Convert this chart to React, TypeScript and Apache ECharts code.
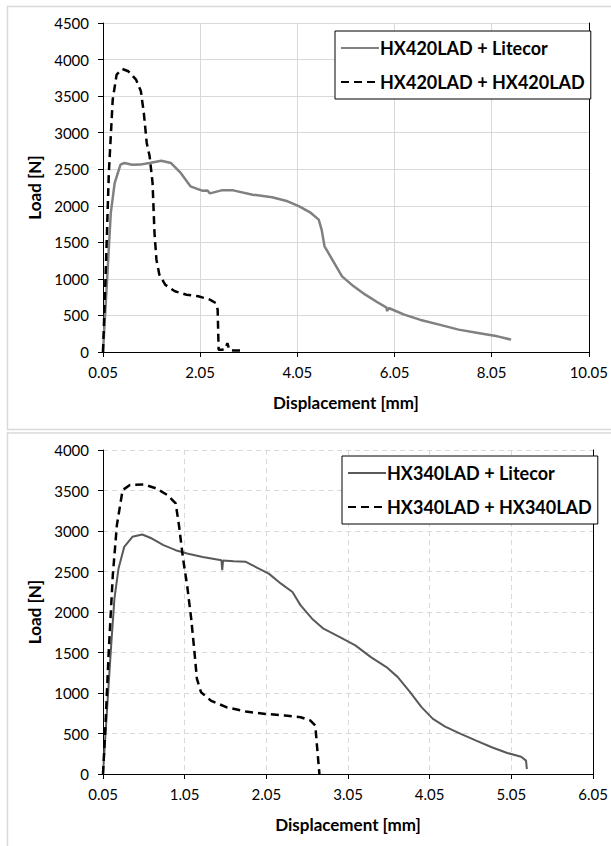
import React, { useEffect, useRef } from "react";
import * as echarts from "echarts";

// ---------- Data (displacement in mm, load in N) ----------
const X_TICK_START = 0.05; // first tick label of both x axes

// Top chart
const TOP_LITECOR_NAME = "HX420LAD + Litecor";
const TOP_LITECOR_X = [0.05, 0.13, 0.21, 0.29, 0.41, 0.49, 0.65, 0.81, 1.01, 1.25, 1.45, 1.65, 1.85, 2.09, 2.2, 2.25, 2.49, 2.73, 3.13, 3.53, 3.85, 4.09, 4.33, 4.49, 4.55, 4.61, 4.73, 4.97, 5.21, 5.45, 5.69, 5.88, 5.9, 5.93, 6.25, 6.57, 6.97, 7.37, 7.77, 8.17, 8.45];
const TOP_LITECOR_Y = [0, 943, 1900, 2310, 2563, 2585, 2560, 2563, 2585, 2617, 2585, 2449, 2266, 2207, 2210, 2170, 2211, 2211, 2152, 2116, 2061, 1993, 1902, 1810, 1674, 1446, 1309, 1035, 898, 784, 684, 610, 560, 602, 511, 442, 374, 306, 260, 214, 169];

const TOP_STEEL_NAME = "HX420LAD + HX420LAD";
const TOP_STEEL_X = [0.05, 0.11, 0.17, 0.25, 0.33, 0.45, 0.57, 0.73, 0.83, 0.89, 0.95, 1.01, 1.07, 1.11, 1.15, 1.21, 1.33, 1.53, 1.77, 2.01, 2.25, 2.37, 2.41, 2.43, 2.49, 2.57, 2.61, 2.65, 2.73, 2.89];
const TOP_STEEL_Y = [0, 1172, 2449, 3452, 3794, 3871, 3840, 3726, 3566, 3270, 2859, 2677, 2312, 1628, 1263, 1058, 921, 830, 784, 762, 716, 670, 579, 32, 30, 40, 123, 30, 20, 20];

// Bottom chart
const BOT_LITECOR_NAME = "HX340LAD + Litecor";
const BOT_LITECOR_X = [0.05, 0.1, 0.15, 0.19, 0.24, 0.31, 0.41, 0.53, 0.65, 0.79, 0.94, 1.08, 1.27, 1.5, 1.51, 1.52, 1.65, 1.8, 1.94, 2.08, 2.23, 2.37, 2.47, 2.61, 2.75, 2.95, 3.14, 3.33, 3.52, 3.66, 3.81, 3.95, 4.09, 4.24, 4.43, 4.62, 4.81, 5.0, 5.17, 5.23, 5.24];
const BOT_LITECOR_Y = [0, 804, 1588, 2165, 2536, 2804, 2928, 2957, 2907, 2825, 2763, 2722, 2680, 2640, 2515, 2635, 2627, 2619, 2544, 2474, 2350, 2247, 2082, 1918, 1794, 1691, 1588, 1443, 1320, 1196, 1010, 825, 680, 586, 495, 412, 330, 260, 214, 165, 62];

const BOT_STEEL_NAME = "HX340LAD + HX340LAD";
const BOT_STEEL_X = [0.05, 0.08, 0.12, 0.17, 0.22, 0.29, 0.38, 0.55, 0.7, 0.84, 0.94, 0.98, 1.03, 1.08, 1.13, 1.17, 1.2, 1.25, 1.37, 1.56, 1.8, 2.04, 2.28, 2.47, 2.59, 2.65, 2.67, 2.7];
const BOT_STEEL_Y = [0, 598, 1505, 2454, 3072, 3505, 3567, 3575, 3526, 3443, 3340, 3072, 2660, 2330, 1918, 1505, 1175, 1010, 907, 825, 771, 742, 722, 701, 660, 598, 351, 0];

// Axis settings
const TOP_X_MAX = 10; // 0.05 .. 10.05
const TOP_X_INTERVAL = 2;
const TOP_Y_MAX = 4500;
const BOT_X_MAX = 6; // 0.05 .. 6.05
const BOT_X_INTERVAL = 1;
const BOT_Y_MAX = 4000;
const Y_INTERVAL = 500;

const FONT = "Lato, 'Open Sans', sans-serif";

const toPairs = (xs: number[], ys: number[]) =>
  xs.map((x, i) => [x - X_TICK_START, ys[i]]);

const fmtX = (v: number) => (v + X_TICK_START).toFixed(2);
const fmtY = (v: number) => String(v);

export default function App() {
  const ref = useRef<HTMLDivElement>(null);

  useEffect(() => {
    if (!ref.current) return;
    const chart = echarts.init(ref.current, undefined, { renderer: "svg" });

    const gridColor = "#d9d9d9";
    const axisLabel = { color: "#000", fontSize: 15, fontFamily: FONT };
    const nameStyle = { color: "#000", fontSize: 17, fontWeight: "bold" as const, fontFamily: FONT };

    const xAxisBase = (gridIndex: number, max: number, interval: number, dashed: boolean) => ({
      type: "value" as const,
      gridIndex,
      min: 0,
      max,
      interval,
      name: "Displacement [mm]",
      nameLocation: "middle" as const,
      nameGap: 42,
      nameTextStyle: nameStyle,
      axisLine: { show: true, onZero: false, lineStyle: { color: "#000", width: 1 } },
      axisTick: { show: true, inside: false, length: 5, lineStyle: { color: "#000" } },
      axisLabel: { ...axisLabel, margin: 12, formatter: fmtX },
      splitLine: { show: true, lineStyle: { color: gridColor, width: 1, type: dashed ? ([5, 4] as any) : "solid" } },
    });

    const yAxisBase = (gridIndex: number, max: number, dashed: boolean) => ({
      type: "value" as const,
      gridIndex,
      min: 0,
      max,
      interval: Y_INTERVAL,
      name: "Load [N]",
      nameLocation: "middle" as const,
      nameGap: 58,
      nameRotate: 90,
      nameTextStyle: nameStyle,
      axisLine: { show: true, lineStyle: { color: "#000", width: 1 } },
      axisTick: { show: true, inside: false, length: 5, lineStyle: { color: "#000" } },
      axisLabel: { ...axisLabel, margin: 14, formatter: fmtY },
      splitLine: { show: true, lineStyle: { color: gridColor, width: 1, type: dashed ? ([5, 4] as any) : "solid" } },
    });

    const rightBorder = (gridIndex: number, max: number) => ({
      type: "value" as const,
      gridIndex,
      position: "right" as const,
      min: 0,
      max,
      interval: Y_INTERVAL,
      axisLine: { show: true, lineStyle: { color: "#000", width: 1 } },
      axisTick: { show: false },
      axisLabel: { show: false },
      splitLine: { show: false },
    });

    const legendBase = {
      orient: "vertical" as const,
      borderColor: "#000",
      borderWidth: 1,
      backgroundColor: "#fff",
      padding: [8, 6, 8, 5],
      itemGap: 16,
      itemWidth: 38,
      itemHeight: 14,
      itemStyle: { opacity: 0 },
      textStyle: { color: "#000", fontSize: 18, fontWeight: "bold" as const, fontFamily: FONT, padding: [0, 0, 0, -4] },
    };

    chart.setOption({
      animation: false,
      backgroundColor: "#fff",
      textStyle: { fontFamily: FONT },
      graphic: [
        { type: "rect", shape: { x: 7.5, y: 6.5, width: 620, height: 423 }, style: { fill: "none", stroke: "#d9d9d9", lineWidth: 1.5 }, silent: true },
        { type: "rect", shape: { x: 7.5, y: 433, width: 620, height: 430 }, style: { fill: "none", stroke: "#d9d9d9", lineWidth: 1.5 }, silent: true },
      ],
      grid: [
        { left: 103, top: 23, width: 486, height: 329 },
        { left: 103, top: 450, width: 490, height: 324 },
      ],
      xAxis: [
        xAxisBase(0, TOP_X_MAX, TOP_X_INTERVAL, false),
        xAxisBase(1, BOT_X_MAX, BOT_X_INTERVAL, true),
      ],
      yAxis: [
        yAxisBase(0, TOP_Y_MAX, false),
        yAxisBase(1, BOT_Y_MAX, true),
        rightBorder(0, TOP_Y_MAX),
        rightBorder(1, BOT_Y_MAX),
      ],
      legend: [
        { ...legendBase, left: 335, top: 31, data: [TOP_LITECOR_NAME, TOP_STEEL_NAME] },
        { ...legendBase, left: 342, top: 456, data: [BOT_LITECOR_NAME, BOT_STEEL_NAME] },
      ],
      series: [
        {
          name: TOP_LITECOR_NAME,
          type: "line",
          xAxisIndex: 0,
          yAxisIndex: 0,
          showSymbol: false,
          symbol: "none",
          data: toPairs(TOP_LITECOR_X, TOP_LITECOR_Y),
          lineStyle: { color: "#808080", width: 2.5 },
          itemStyle: { color: "#808080" },
          z: 2,
        },
        {
          name: TOP_STEEL_NAME,
          type: "line",
          xAxisIndex: 0,
          yAxisIndex: 0,
          showSymbol: false,
          symbol: "none",
          data: toPairs(TOP_STEEL_X, TOP_STEEL_Y),
          lineStyle: { color: "#000", width: 2.5, type: [8, 5] },
          itemStyle: { color: "#000" },
          z: 3,
        },
        {
          name: BOT_LITECOR_NAME,
          type: "line",
          xAxisIndex: 1,
          yAxisIndex: 1,
          showSymbol: false,
          symbol: "none",
          data: toPairs(BOT_LITECOR_X, BOT_LITECOR_Y),
          lineStyle: { color: "#595959", width: 2 },
          itemStyle: { color: "#595959" },
          z: 2,
        },
        {
          name: BOT_STEEL_NAME,
          type: "line",
          xAxisIndex: 1,
          yAxisIndex: 1,
          showSymbol: false,
          symbol: "none",
          data: toPairs(BOT_STEEL_X, BOT_STEEL_Y),
          lineStyle: { color: "#000", width: 2.5, type: [8, 5] },
          itemStyle: { color: "#000" },
          z: 3,
        },
      ],
    });

    return () => chart.dispose();
  }, []);

  return (
    <div
      ref={ref}
      style={{ position: "absolute", left: 0, top: 0, width: 611, height: 846 }}
    />
  );
}
